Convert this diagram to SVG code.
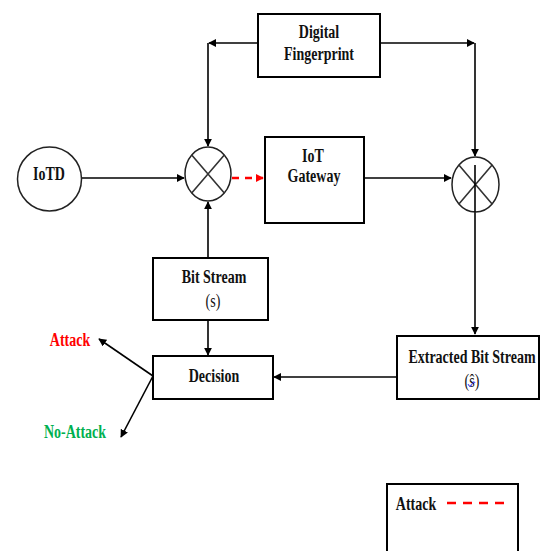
<svg xmlns="http://www.w3.org/2000/svg" width="540" height="551" viewBox="0 0 540 551">
<style>
.box{fill:#fff;stroke:#000;stroke-width:2}
.ln{fill:none;stroke:#000;stroke-width:1.6}
.t{font-family:"Liberation Serif","Times New Roman",serif;font-weight:bold;font-size:14px;text-anchor:middle;fill:#111}
.xm{fill:#fff;stroke:#222;stroke-width:1.5}
</style>
<defs>
<marker id="ah" viewBox="0 0 10 10" refX="9" refY="5" markerWidth="8" markerHeight="8" markerUnits="userSpaceOnUse" orient="auto">
<path d="M0,0 L10,5 L0,10 z" fill="#000"/>
</marker>
<marker id="ahr" viewBox="0 0 10 10" refX="9" refY="5" markerWidth="8" markerHeight="8" markerUnits="userSpaceOnUse" orient="auto">
<path d="M0,0 L10,5 L0,10 z" fill="#f00"/>
</marker>
</defs>

<g id="connectors">
<path class="ln" d="M258,43 H209" marker-end="url(#ah)"/>
<path class="ln" d="M208,43 V146" marker-end="url(#ah)"/>
<path class="ln" d="M380,43 H474" marker-end="url(#ah)"/>
<path class="ln" d="M475,43 V156" marker-end="url(#ah)"/>
<path class="ln" d="M82,178 H184" marker-end="url(#ah)"/>
<path fill="none" stroke="#f00" stroke-width="2.5" stroke-dasharray="7,6" d="M232,178 H263" marker-end="url(#ahr)"/>
<path class="ln" d="M364,178 H451" marker-end="url(#ah)"/>
<path class="ln" d="M475,165 V334" marker-end="url(#ah)"/>
<path class="ln" d="M208,258 V202" marker-end="url(#ah)"/>
<path class="ln" d="M208,320 V355" marker-end="url(#ah)"/>
<path class="ln" d="M397,377 H274" marker-end="url(#ah)"/>
<path class="ln" d="M153,376 L99,339" marker-end="url(#ah)"/>
<path class="ln" d="M153,376 L121,437" marker-end="url(#ah)"/>
</g>

<g id="digital-fingerprint">
<rect class="box" x="258" y="14" width="122" height="63"/>
<text class="t" transform="translate(319,38) scale(1,1.35)">Digital</text>
<text class="t" transform="translate(319,60) scale(1,1.35)">Fingerprint</text>
</g>

<g id="iotd">
<circle cx="49.5" cy="179" r="32" fill="#fff" stroke="#222" stroke-width="1.5"/>
<text class="t" transform="translate(49,180) scale(1,1.35)">IoTD</text>
</g>

<g id="mixer1">
<ellipse class="xm" cx="208" cy="174" rx="23" ry="27"/>
<path class="ln" stroke-width="1.2" d="M191.7,154.9 L224.3,193.1 M224.3,154.9 L191.7,193.1" style="stroke:#333"/>
</g>

<g id="iot-gateway">
<rect class="box" x="265" y="137" width="99" height="86"/>
<text class="t" transform="translate(313,162) scale(1,1.35)">IoT</text>
<text class="t" transform="translate(314,182) scale(1,1.35)">Gateway</text>
</g>

<g id="mixer2">
<ellipse class="xm" cx="475.5" cy="184.5" rx="23.5" ry="27.5"/>
<path class="ln" stroke-width="1.2" d="M458.9,165 L492.1,204 M492.1,165 L458.9,204" style="stroke:#333"/>
<path class="ln" d="M475,165 V212"/>
</g>

<g id="bit-stream">
<rect class="box" x="153" y="258" width="115" height="62"/>
<text class="t" transform="translate(214,283) scale(1,1.35)">Bit Stream</text>
<text class="t" transform="translate(213,307) scale(1,1.35)" style="font-weight:normal">(s)</text>
</g>

<g id="decision">
<rect class="box" x="153" y="356" width="120" height="43"/>
<text class="t" transform="translate(214,382) scale(1,1.35)">Decision</text>
</g>

<g id="extracted-bit-stream">
<rect class="box" x="397" y="336" width="142" height="63"/>
<text class="t" transform="translate(472,363) scale(1,1.35)">Extracted Bit Stream</text>
<text class="t" transform="translate(472,387) scale(1,1.35)" style="font-weight:normal">(ŝ)</text>
<path d="M468,384 q2,5 4,0 q2,-4 3,-1" fill="none" stroke="#33f" stroke-width="1"/>
</g>

<g id="attack-label">
<text class="t" transform="translate(70,346) scale(1,1.35)" style="fill:#f00">Attack</text>
</g>
<g id="no-attack-label">
<text class="t" transform="translate(75,438) scale(1,1.35)" style="fill:#00b050">No-Attack</text>
</g>

<g id="legend">
<rect class="box" x="387" y="484" width="131" height="80"/>
<text class="t" transform="translate(416,510) scale(1,1.35)">Attack</text>
<path d="M447,503 H509" fill="none" stroke="#f00" stroke-width="2.5" stroke-dasharray="9,7"/>
</g>
</svg>
